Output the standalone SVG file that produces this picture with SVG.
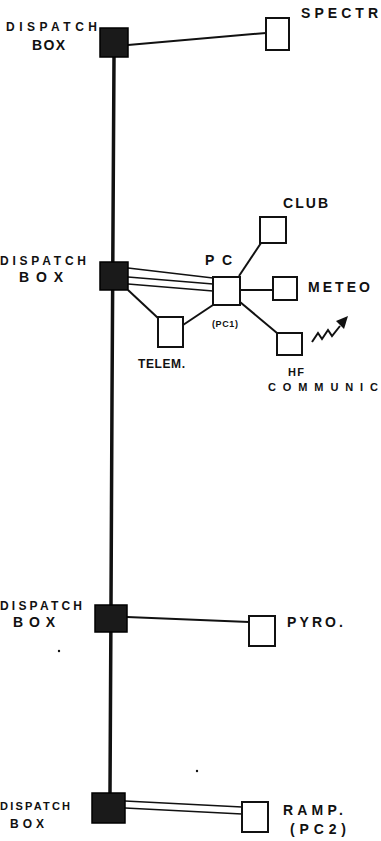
<svg xmlns="http://www.w3.org/2000/svg" width="381" height="841" viewBox="0 0 381 841">
<style>
.disp{fill:#1a1a1a;stroke:#000;stroke-width:1.5}
.box{fill:#fff;stroke:#111;stroke-width:2}
.ln{stroke:#111;stroke-width:2;fill:none}
.thin{stroke:#111;stroke-width:1.6;fill:none}
.bus{stroke:#111;stroke-width:3.5;fill:none}
text{font-family:"Liberation Sans",Arial,sans-serif;font-size:14px;font-weight:bold;fill:#111}
.sm{font-size:12px}
.xs{font-size:11px}
</style>
<rect width="381" height="841" fill="#fff"/>
<g id="connectors">
<path class="bus" d="M114 57 L112 400 L111 605 L110 793"/>
<path class="ln" d="M128 45 L266 33"/>
<path class="thin" d="M128 268 L213 278 M128 277 L213 284 M128 284 L213 291"/>
<path class="ln" d="M128 290 L158 318"/>
<path class="ln" d="M183 325 L213 305"/>
<path class="ln" d="M239 276 L261 243"/>
<path class="ln" d="M240 290 L273 290"/>
<path class="ln" d="M240 302 L277 333"/>
<path class="ln" d="M127 617 L249 622"/>
<path class="thin" d="M125 801 L242 807 M125 808 L242 814"/>
</g>
<g id="dispatch1"><rect class="disp" x="100" y="28" width="28" height="29"/><text class="sm" x="6" y="31" textLength="91" lengthAdjust="spacing">DISPATCH</text><text x="32" y="50" textLength="33" lengthAdjust="spacing">BOX</text></g>
<g id="spectr"><rect class="box" x="266" y="18" width="23" height="32"/><text x="301" y="18" textLength="77" lengthAdjust="spacing">SPECTR</text></g>
<g id="dispatch2"><rect class="disp" x="100" y="262" width="28" height="28"/><text class="sm" x="0" y="265" textLength="86" lengthAdjust="spacing">DISPATCH</text><text x="19" y="282" textLength="44" lengthAdjust="spacing">BOX</text></g>
<g id="pc"><rect class="box" x="213" y="277" width="27" height="28"/><text x="205" y="265" textLength="27" lengthAdjust="spacing">PC</text><text x="212" y="327" style="font-size:9px" textLength="26" lengthAdjust="spacing">(PC1)</text></g>
<g id="club"><rect class="box" x="260" y="217" width="26" height="26"/><text x="283" y="208" textLength="45" lengthAdjust="spacing">CLUB</text></g>
<g id="meteo"><rect class="box" x="273" y="277" width="24" height="23"/><text x="308" y="292" textLength="62" lengthAdjust="spacing">METEO</text></g>
<g id="hf"><rect class="box" x="277" y="333" width="25" height="22"/><path class="ln" d="M312 342 L318 333 L322 339 L328 330 L332 336 L340 326" stroke-width="2.2"/><path d="M336 321 L348 316 L344 329 Z" fill="#111"/><text class="xs" x="288" y="376" textLength="16" lengthAdjust="spacing">HF</text><text class="xs" x="268" y="391" textLength="110" lengthAdjust="spacing">COMMUNIC</text></g>
<g id="telem"><rect class="box" x="158" y="317" width="25" height="30"/><text class="sm" x="138" y="368" textLength="47" lengthAdjust="spacing">TELEM.</text></g>
<g id="dispatch3"><rect class="disp" x="95" y="605" width="32" height="27"/><text class="sm" x="0" y="610" textLength="82" lengthAdjust="spacing">DISPATCH</text><text x="13" y="627" textLength="42" lengthAdjust="spacing">BOX</text><circle cx="59" cy="651" r="1.2" fill="#111"/></g>
<g id="pyro"><rect class="box" x="249" y="616" width="26" height="30"/><text x="287" y="627" textLength="56" lengthAdjust="spacing">PYRO.</text></g>
<g id="dispatch4"><rect class="disp" x="92" y="793" width="33" height="30"/><text class="xs" x="0" y="810" textLength="70" lengthAdjust="spacing">DISPATCH</text><text class="sm" x="10" y="828" textLength="34" lengthAdjust="spacing">BOX</text><circle cx="197" cy="771" r="1.2" fill="#111"/></g>
<g id="ramp"><rect class="box" x="242" y="802" width="26" height="30"/><text x="283" y="815" textLength="60" lengthAdjust="spacing">RAMP.</text><text x="290" y="834" textLength="56" lengthAdjust="spacing">(PC2)</text></g>
</svg>
